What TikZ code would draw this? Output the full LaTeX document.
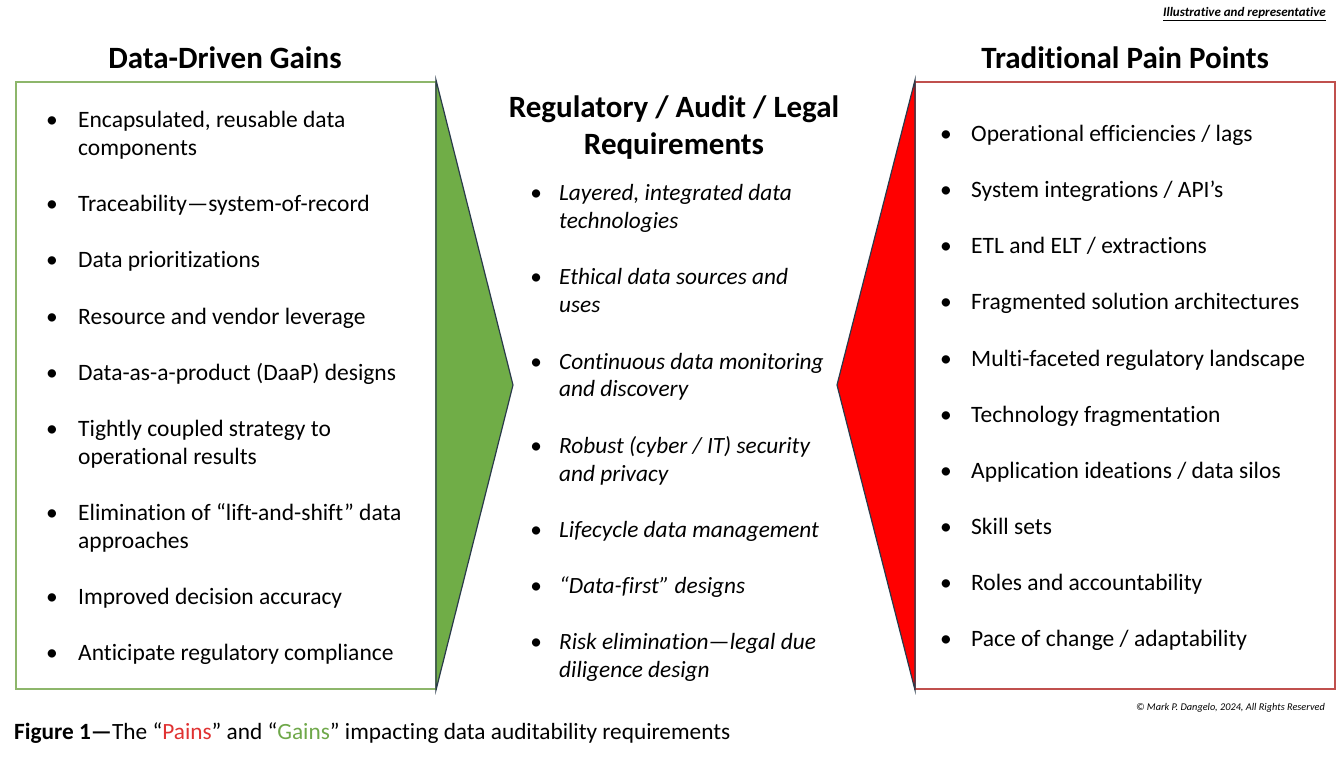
\documentclass[tikz,border=0pt]{standalone}
\usepackage{fontspec}
\setmainfont[Ligatures={NoCommon,TeX}]{Carlito}
\usepackage{array}
\definecolor{gainfill}{HTML}{70AD47}
\definecolor{gainline}{HTML}{8DB66B}
\definecolor{painfill}{HTML}{FF0000}
\definecolor{painline}{HTML}{C0504D}
\definecolor{tipline}{HTML}{2A3A4A}
\definecolor{capred}{HTML}{E03232}
\definecolor{capgreen}{HTML}{6FA84A}
\newcommand{\itm}[3]{\begin{tabular}[t]{@{}p{#1}@{}l@{}}\textbullet & #2\\ & #3\end{tabular}}
\newcommand{\itmone}[2]{\begin{tabular}[t]{@{}p{#1}@{}l@{}}\textbullet & #2\end{tabular}}
\tikzset{
  body/.style={anchor=base west, inner sep=0pt, font=\fontsize{23.5}{28}\selectfont},
  bodyit/.style={body, font=\fontsize{23.3}{28}\selectfont\itshape},
  head/.style={anchor=base, inner sep=0pt, font=\fontsize{31}{37}\selectfont\bfseries},
}
\begin{document}
\begin{tikzpicture}[x=1pt,y=-1pt]
\useasboundingbox (0,0) rectangle (1336,759);
% boxes
\draw[gainline, line width=1.5pt] (16,82) rectangle (436,689);
\draw[painline, line width=1.5pt] (915,82) rectangle (1335,689);
% arrow shapes
\draw[tipline, fill=gainfill, line width=1.2pt, line join=miter] (436,80) -- (513,385) -- (436,690) -- cycle;
\draw[tipline, fill=painfill, line width=1.2pt, line join=miter] (915,80) -- (837,385) -- (915,690) -- cycle;
% headings
\node[head] (hL) at (225,69) {Data-Driven Gains};
\node[head] (hR) at (1125,69) {Traditional Pain Points};
\node[head, align=center] (hM) at (674,155) {Regulatory / Audit / Legal\\Requirements};
% left items
\node[body] (l1) at (46,128) {\itm{32pt}{Encapsulated, reusable data}{components}};
\node[body] (l2) at (46,212) {\itmone{32pt}{Traceability—system-of-record}};
\node[body] (l3) at (46,268) {\itmone{32pt}{Data prioritizations}};
\node[body] (l4) at (46,324) {\itmone{32pt}{Resource and vendor leverage}};
\node[body] (l5) at (46,380) {\itmone{32pt}{Data-as-a-product (DaaP) designs}};
\node[body] (l6) at (46,436) {\itm{32pt}{Tightly coupled strategy to}{operational results}};
\node[body] (l7) at (46,520) {\itm{32pt}{Elimination of “lift-and-shift” data}{approaches}};
\node[body] (l8) at (46,604) {\itmone{32pt}{Improved decision accuracy}};
\node[body] (l9) at (46,660) {\itmone{32pt}{Anticipate regulatory compliance}};
% middle items
\node[bodyit] (m1) at (530,201) {\itm{29pt}{Layered, integrated data}{technologies}};
\node[bodyit] (m2) at (530,285) {\itm{29pt}{Ethical data sources and}{uses}};
\node[bodyit] (m3) at (530,369) {\itm{29pt}{Continuous data monitoring}{and discovery}};
\node[bodyit] (m4) at (530,453) {\itm{29pt}{Robust (cyber / IT) security}{and privacy}};
\node[bodyit] (m5) at (530,537) {\itmone{29pt}{Lifecycle data management}};
\node[bodyit] (m6) at (530,593) {\itmone{29pt}{“Data-first” designs}};
\node[bodyit] (m7) at (530,649) {\itm{29pt}{Risk elimination—legal due}{diligence design}};
% right items
\node[body] (r1) at (940,142) {\itmone{31pt}{Operational efficiencies / lags}};
\node[body] (r2) at (940,198) {\itmone{31pt}{System integrations / API’s}};
\node[body] (r3) at (940,254) {\itmone{31pt}{ETL and ELT / extractions}};
\node[body] (r4) at (940,310) {\itmone{31pt}{Fragmented solution architectures}};
\node[body] (r5) at (940,366) {\itmone{31pt}{Multi-faceted regulatory landscape}};
\node[body] (r6) at (940,422) {\itmone{31pt}{Technology fragmentation}};
\node[body] (r7) at (940,478) {\itmone{31pt}{Application ideations / data silos}};
\node[body] (r8) at (940,534) {\itmone{31pt}{Skill sets}};
\node[body] (r9) at (940,590) {\itmone{31pt}{Roles and accountability}};
\node[body] (r10) at (940,646) {\itmone{31pt}{Pace of change / adaptability}};
% annotations
\node[anchor=base east, inner sep=0pt, font=\fontsize{13}{15}\selectfont\bfseries\itshape] (ill) at (1326,17) {\underline{Illustrative and representative}};
\node[anchor=base east, inner sep=0pt, font=\fontsize{10.3}{12}\selectfont\itshape] (copy) at (1325,710) {© Mark P. Dangelo, 2024, All Rights Reserved};
\node[anchor=base west, inner sep=0pt, font=\fontsize{23.3}{28}\selectfont] (cap) at (14,739) {\textbf{Figure 1—}The “\textcolor{capred}{Pains}” and “\textcolor{capgreen}{Gains}” impacting data auditability requirements};
\end{tikzpicture}
\end{document}
